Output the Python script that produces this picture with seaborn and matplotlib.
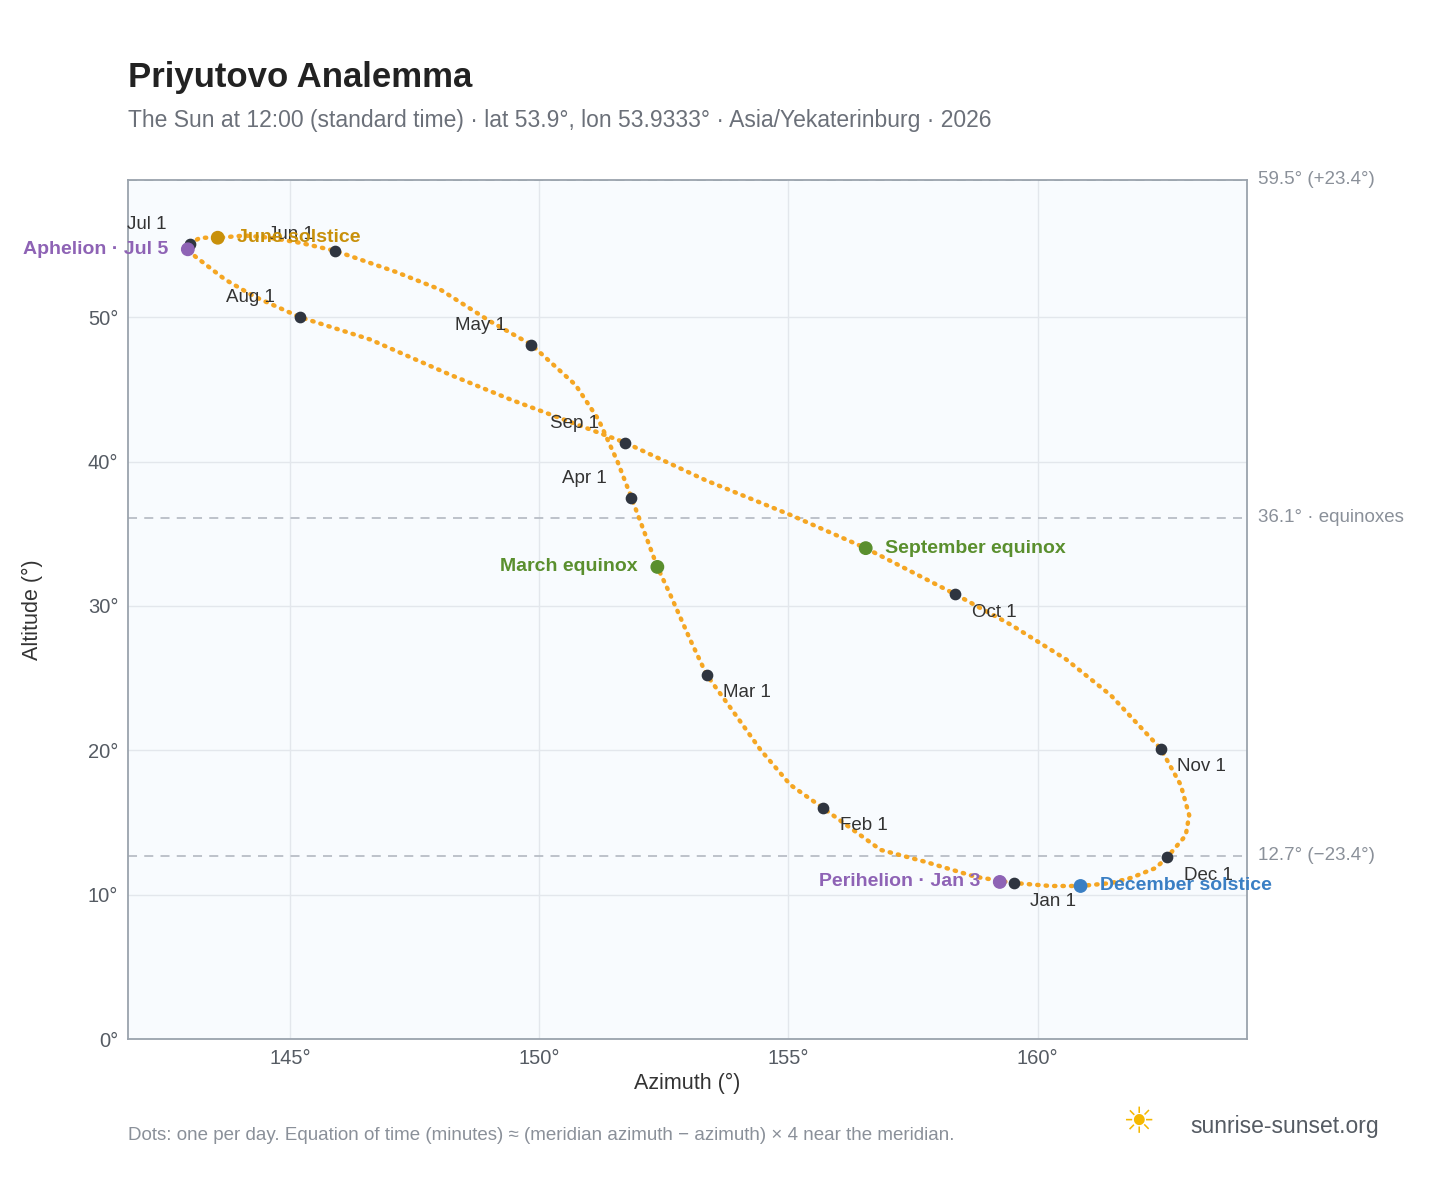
import matplotlib
matplotlib.use("Agg")
import matplotlib.pyplot as plt
import seaborn as sns
import pandas as pd

path_az = [159.52, 158.76, 157.75, 156.85, 155.69, 155.04, 154.44, 153.94, 153.36, 153.03,
           152.63, 152.37, 151.85, 151.57, 151.19, 150.73, 149.84, 149.02, 148.02, 147.11,
           145.90, 145.20, 144.60, 144.10, 143.55, 143.20, 142.99, 142.95, 143.10, 143.70,
           144.30, 145.20, 146.61, 148.22, 149.42, 151.73, 153.34, 155.04, 156.55, 158.35,
           159.46, 160.57, 161.47, 162.47, 162.87, 163.04, 162.97, 162.60, 162.37, 161.87,
           161.47, 160.86, 160.26, 159.52]
path_alt = [10.81, 11.23, 12.27, 13.10, 16.01, 17.60, 20.03, 22.45, 25.22, 27.65,
            30.77, 32.70, 37.50, 40.00, 42.90, 45.30, 48.10, 49.70, 51.90, 53.15,
            54.60, 55.15, 55.50, 55.65, 55.50, 55.50, 55.10, 54.70, 54.20, 52.60,
            51.40, 50.00, 48.45, 46.00, 44.30, 41.30, 38.70, 36.30, 34.00, 30.80,
            28.70, 26.30, 23.80, 20.10, 17.60, 15.50, 14.10, 12.60, 11.85, 11.16,
            10.80, 10.60, 10.60, 10.81]

months = ["Jan 1", "Feb 1", "Mar 1", "Apr 1", "May 1", "Jun 1", "Jul 1", "Aug 1", "Sep 1", "Oct 1", "Nov 1", "Dec 1"]
month_az = [159.52, 155.69, 153.36, 151.85, 149.84, 145.90, 142.99, 145.20, 151.73, 158.35, 162.47, 162.60]
month_alt = [10.81, 16.01, 25.22, 37.50, 48.10, 54.60, 55.10, 50.00, 41.30, 30.80, 20.10, 12.60]
month_off = [(12, -13), (12, -13), (12, -13), (-50, 14), (-55, 14), (-48, 12), (-45, 14), (-53, 14),
             (-54, 14), (12, -13), (12, -13), (12, -13)]

events = ["June solstice", "Aphelion · Jul 5", "March equinox", "September equinox",
          "Perihelion · Jan 3", "December solstice"]
event_az = [143.55, 142.95, 152.37, 156.55, 159.24, 160.86]
event_alt = [55.5, 54.7, 32.7, 34.0, 10.88, 10.6]
event_col = ["#c8900a", "#8e63b5", "#5a8f2e", "#5a8f2e", "#8e63b5", "#3a7fc4"]
event_ha = ["left", "right", "right", "left", "right", "left"]

ref_alt = [59.5, 36.1, 12.7]
ref_lab = ["59.5° (+23.4°)", "36.1° · equinoxes", "12.7° (−23.4°)"]

sns.set_style("whitegrid")
plt.rcParams['font.family'] = ['Liberation Sans', 'DejaVu Sans']
fig = plt.figure(figsize=(14.48, 11.88), dpi=100)
ax = fig.add_axes([0.0884, 0.1254, 0.7728, 0.7231])
ax.set_facecolor("#f8fbfe")

df = pd.DataFrame({"az": path_az, "alt": path_alt})
sns.lineplot(data=df, x="az", y="alt", sort=False, estimator=None, ax=ax, color="#f5a623",
             linewidth=3.2, linestyle=(0, (0.3, 1.6)), dash_capstyle="round", zorder=3)

for a, lab in zip(ref_alt, ref_lab):
    ax.axhline(a, color="#b8bec6", linestyle=(0, (5, 4)), linewidth=1.3, zorder=1)
    ax.text(1.01, a, lab, transform=ax.get_yaxis_transform(), va="center", ha="left",
            fontsize=13.5, color="#8a9099")

ax.scatter(month_az, month_alt, s=55, color="#2f3540", zorder=5)
for x, y, lab, (dx, dy) in zip(month_az, month_alt, months, month_off):
    ax.annotate(lab, (x, y), xytext=(dx, dy), textcoords="offset points", fontsize=13.5,
                color="#333", va="center", zorder=6)

ax.scatter(event_az, event_alt, s=80, color=event_col, zorder=6)
for x, y, lab, c, ha in zip(event_az, event_alt, events, event_col, event_ha):
    dx = 14 if ha == "left" else -14
    ax.annotate(lab, (x, y), xytext=(dx, 0), textcoords="offset points", fontsize=14,
                fontweight="bold", color=c, ha=ha, va="center", zorder=7)

ax.set_xlim(141.75, 164.2)
ax.set_ylim(0, 59.5)
ax.set_xticks([145, 150, 155, 160])
ax.set_xticklabels(["145°", "150°", "155°", "160°"])
ax.set_yticks([0, 10, 20, 30, 40, 50])
ax.set_yticklabels([f"{v}°" for v in [0, 10, 20, 30, 40, 50]])
ax.tick_params(labelsize=14.5, colors="#555b63")
ax.grid(color="#e3e7ec", linewidth=1)
for s in ax.spines.values():
    s.set_color("#9aa3ad")
    s.set_linewidth(1.3)
ax.set_xlabel("Azimuth (°)", fontsize=15.5, color="#333")
ax.set_ylabel("Altitude (°)", fontsize=15.5, color="#333", labelpad=32)

fig.text(0.0884, 0.927, "Priyutovo Analemma", fontsize=25, fontweight="bold", color="#222")
fig.text(0.0884, 0.893, "The Sun at 12:00 (standard time) · lat 53.9°, lon 53.9333° · Asia/Yekaterinburg · 2026",
         fontsize=16.5, color="#6b7079")
fig.text(0.0884, 0.04, "Dots: one per day. Equation of time (minutes) ≈ (meridian azimuth − azimuth) × 4 near the meridian.",
         fontsize=13.5, color="#8a9099")
fig.text(0.775, 0.054, "☀", fontsize=26, color="#f5b800", va="center")
fig.text(0.822, 0.052, "sunrise-sunset.org", fontsize=16.5, color="#555b63", va="center")

fig.savefig("out.png", dpi=100)
